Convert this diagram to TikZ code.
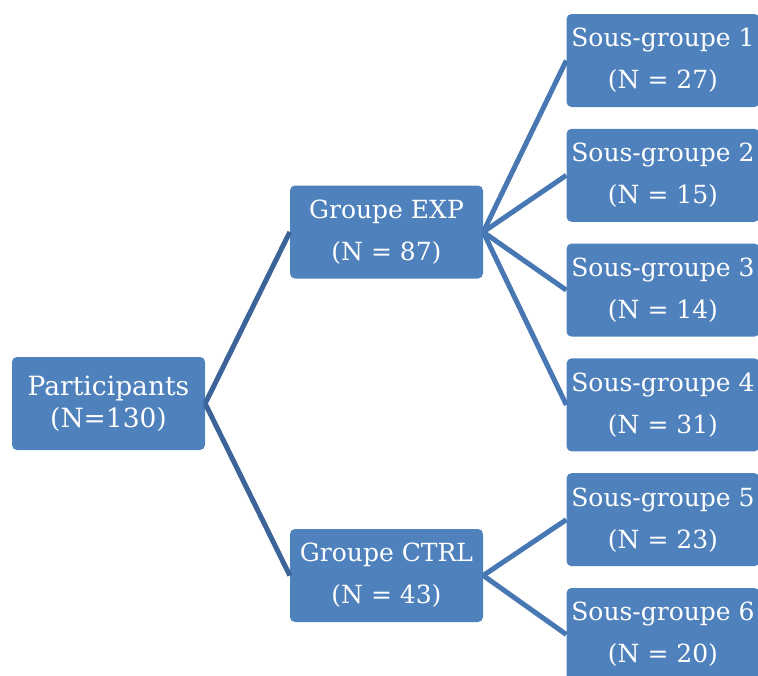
\documentclass[tikz,border=0pt]{standalone}
\usepackage{fontspec}
\setmainfont{DejaVu Serif}
\usetikzlibrary{positioning}
\definecolor{boxblue}{RGB}{79,129,189}
\definecolor{linkdark}{RGB}{60,100,152}
\definecolor{linkblue}{RGB}{72,120,180}
\tikzset{
	grp/.style={fill=boxblue, text=white, rounded corners=5pt, minimum width=193pt, minimum height=93pt, inner sep=0pt, align=center, font=\fontsize{25}{42}\selectfont},
	link/.style={draw=linkblue, line width=5pt},
	toplink/.style={link, draw=linkdark},
}

\begin{document}
\begin{tikzpicture}[x=1pt,y=-1pt,node distance=21.4pt]
		\clip (0,0) rectangle (758,675);
		\node (p)  [grp, font=\fontsize{26.5}{32}\selectfont] at (108.5,403.5) {Participants\\(N=130)};
		\node (e)  [grp] at (386.5,232)   {Groupe EXP\\(N = 87)};
		\node (c)  [grp] at (386.5,575.5) {Groupe CTRL\\(N = 43)};
		
		\node (s1) [grp] at (663,60.5)    {Sous-groupe 1\\(N = 27)};
		\node (s2) [grp, below=of s1]     {Sous-groupe 2\\(N = 15)};
		\node (s3) [grp, below=of s2]     {Sous-groupe 3\\(N = 14)};
		\node (s4) [grp, below=of s3]     {Sous-groupe 4\\(N = 31)};
		\node (s5) [grp, below=of s4]     {Sous-groupe 5\\(N = 23)};
		\node (s6) [grp, below=of s5]     {Sous-groupe 6\\(N = 20)};
		
		\draw [toplink] (p.east) -- (e.west);
		\draw [toplink] (p.east) -- (c.west);
		
		\draw [link] (e.east) -- (s1.west);
		\draw [link] (e.east) -- (s2.west);
		\draw [link] (e.east) -- (s3.west);
		\draw [link] (e.east) -- (s4.west);
		
		\draw [link] (c.east) -- (s5.west);
		\draw [link] (c.east) -- (s6.west);
	\end{tikzpicture}
\end{document}
